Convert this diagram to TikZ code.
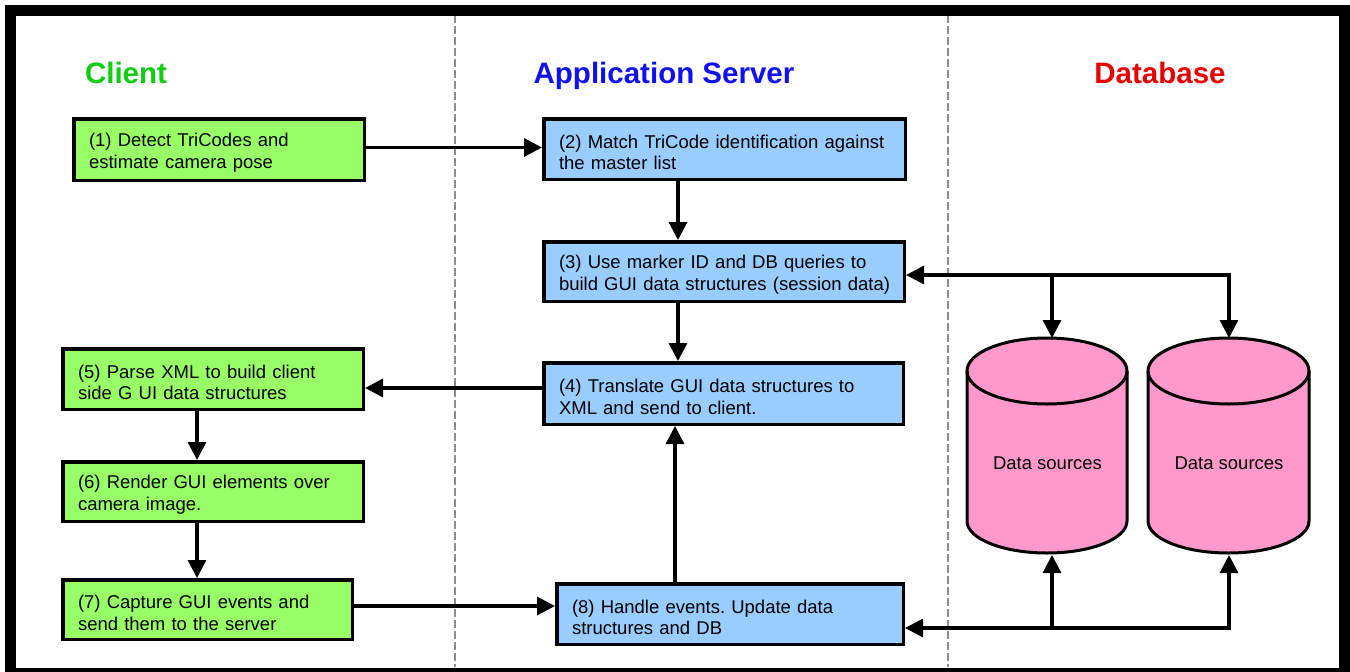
\documentclass[tikz,border=0pt]{standalone}
\usepackage{fontspec}
\setmainfont{Liberation Sans}
\usetikzlibrary{arrows.meta}
\frenchspacing
\definecolor{cgreen}{HTML}{99FF66}
\definecolor{cblue}{HTML}{99CCFF}
\definecolor{cpink}{HTML}{FF99CC}
\definecolor{tgreen}{HTML}{11CC11}
\definecolor{tblue}{HTML}{1010F0}
\definecolor{tred}{HTML}{E80000}
\definecolor{dgrey}{HTML}{8C8C8C}
\tikzset{
  stepbox/.style={draw=black, line width=3.5pt, inner xsep=15.25pt, inner ysep=0pt,
    align=left, font=\fontsize{18.5}{21.5}\selectfont, anchor=center,
    execute at begin node={\rule{0pt}{20pt}}},
  gbox/.style={stepbox, fill=cgreen},
  bbox/.style={stepbox, fill=cblue},
  title/.style={font=\fontsize{29.5}{32}\selectfont\bfseries, anchor=base},
  conn/.style={line width=3.2pt, line join=miter},
  arr/.style={conn, -{Triangle[length=18pt, width=18pt]}},
  arrb/.style={conn, {Triangle[length=18pt, width=18pt]}-{Triangle[length=18pt, width=18pt]}},
  lane/.style={dgrey, line width=1.2pt, dash pattern=on 8pt off 3pt},
  cyl/.style={draw=black, line width=3pt, fill=cpink},
  dbtext/.style={font=\fontsize{18.5}{21.5}\selectfont}
}
\begin{document}
\begin{tikzpicture}[x=1pt, y=1pt]
\useasboundingbox (0,0) rectangle (1350,-672);
\fill[white] (0,0) rectangle (1350,-672);

% lane separators
\draw[lane] (455,-15) -- (455,-667);
\draw[lane] (948,-15) -- (948,-667);

% titles
\node[title, text=tgreen] (tc) at (126,-83.5) {Client};
\node[title, text=tblue] (ta) at (664,-83.5) {Application Server};
\node[title, text=tred] (td) at (1160,-83.5) {Database};

% boxes
\node[gbox, text width=260pt, minimum width=290.5pt, minimum height=61.5pt] (b1) at (219,-149.5)
  {\mbox{(1) Detect TriCodes and}\\\mbox{estimate camera pose}};
\node[bbox, text width=331pt, minimum width=361.5pt, minimum height=60.5pt] (b2) at (724.5,-149)
  {\mbox{(2) Match TriCode identification against}\\\mbox{the master list}};
\node[bbox, text width=330pt, minimum width=360.5pt, minimum height=59.5pt] (b3) at (724,-271.5)
  {\mbox{(3) Use marker ID and DB queries to}\\\mbox{build GUI data structures (session data)}};
\node[bbox, text width=329pt, minimum width=359.5pt, minimum height=61.5pt] (b4) at (723.5,-393.5)
  {\mbox{(4) Translate GUI data structures to}\\\mbox{XML and send to client.}};
\node[gbox, text width=270pt, minimum width=300.5pt, minimum height=60.5pt] (b5) at (213,-379)
  {\mbox{(5) Parse XML to build client}\\\mbox{side G UI data structures}};
\node[gbox, text width=270pt, minimum width=300.5pt, minimum height=59.5pt] (b6) at (213,-491.5)
  {\mbox{(6) Render GUI elements over}\\\mbox{camera image.}};
\node[gbox, text width=259pt, minimum width=289.5pt, minimum height=59.5pt] (b7) at (207.5,-609.5)
  {\mbox{(7) Capture GUI events and}\\\mbox{send them to the server}};
\node[bbox, text width=316pt, minimum width=346.5pt, minimum height=60.5pt] (b8) at (730,-614)
  {\mbox{(8) Handle events. Update data}\\\mbox{structures and DB}};

% cylinders
\draw[cyl] (967,-371) -- (967,-521) arc[start angle=180, end angle=360, x radius=80pt, y radius=32pt]
  -- (1127,-371) arc[start angle=0, end angle=180, x radius=80pt, y radius=33pt] -- cycle;
\draw[line width=3pt] (967,-371) arc[start angle=180, end angle=360, x radius=80pt, y radius=33pt];
\draw[cyl] (1148,-371) -- (1148,-521) arc[start angle=180, end angle=360, x radius=80.5pt, y radius=32pt]
  -- (1309,-371) arc[start angle=0, end angle=180, x radius=80.5pt, y radius=33pt] -- cycle;
\draw[line width=3pt] (1148,-371) arc[start angle=180, end angle=360, x radius=80.5pt, y radius=33pt];
\node[dbtext] (d1) at (1047.5,-463) {Data sources};
\node[dbtext] (d2) at (1229,-463) {Data sources};

% connector helper coordinates
\coordinate (c1t) at (1052,-338);
\coordinate (c2t) at (1229,-338);
\coordinate (c1b) at (1052,-555);
\coordinate (c2b) at (1229,-555);
\coordinate (ytop) at (0,-275);
\coordinate (ybot) at (0,-628);
\coordinate (y45) at (0,-388);
\coordinate (y78) at (0,-606);
\coordinate (y12) at (0,-147.5);
\coordinate (xs) at (678,0);
\coordinate (xu) at (675,0);
\coordinate (xc) at (197,0);

% connectors
\draw[arr] (y12 -| b1.east) -- (y12 -| b2.west);
\draw[arr] (xs |- b2.south) -- (xs |- b3.north);
\draw[arr] (xs |- b3.south) -- (xs |- b4.north);
\draw[arr] (y45 -| b4.west) -- (y45 -| b5.east);
\draw[arr] (xc |- b5.south) -- (xc |- b6.north);
\draw[arr] (xc |- b6.south) -- (xc |- b7.north);
\draw[arr] (y78 -| b7.east) -- (y78 -| b8.west);
\draw[arr] (xu |- b8.north) -- (xu |- b4.south);

\draw[arrb] (c2t) -- (ytop -| c2t) -- (ytop -| b3.east);
\draw[arr] (ytop -| c1t) -- (c1t);
\draw[arrb] (c2b) -- (ybot -| c2b) -- (ybot -| b8.east);
\draw[arr] (ybot -| c1b) -- (c1b);

% frame
\draw[black, line width=11pt] (10.5,-10.5) rectangle (1344.5,-673);
\end{tikzpicture}
\end{document}
